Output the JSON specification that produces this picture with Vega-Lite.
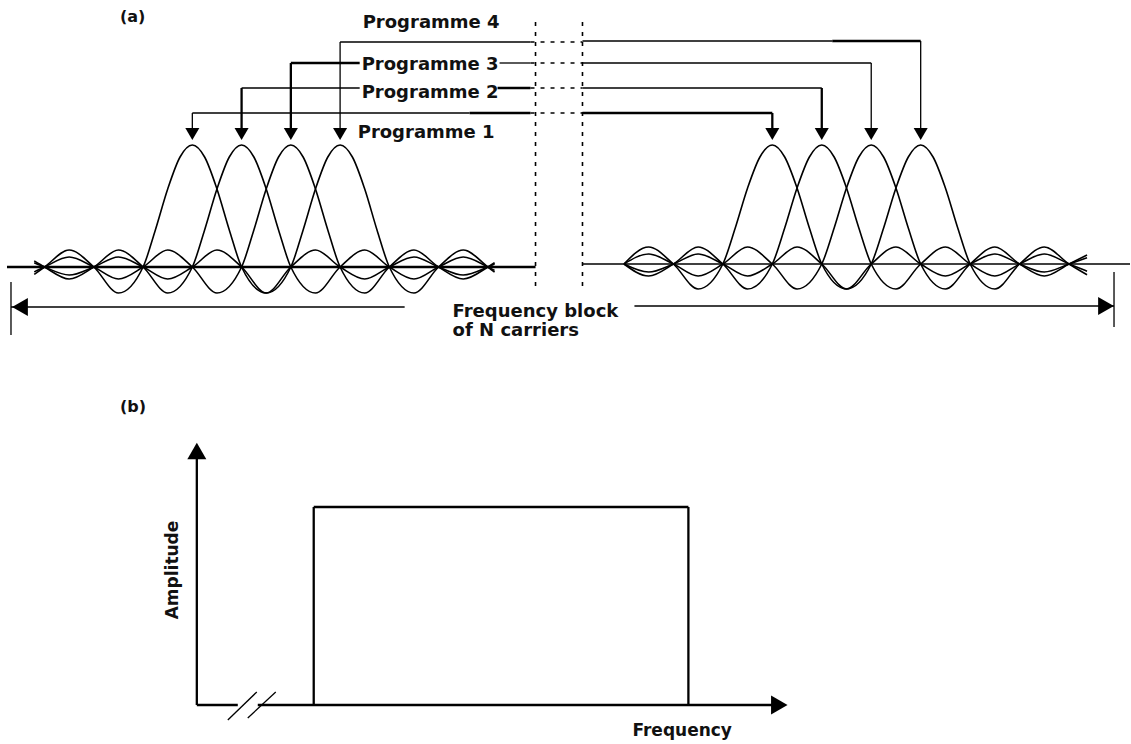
{
  "$schema": "https://vega.github.io/schema/vega-lite/v6.json",
  "width": 1131,
  "height": 744,
  "padding": 0,
  "autosize": {"type": "fit", "contains": "padding"},
  "background": "white",
  "config": {"view": {"stroke": null}},
  "datasets": {
    "curves": [
      {"g":"L0","x":34.3,"y":274.4},{"g":"L0","x":44.6,"y":267},{"g":"L0","x":69.25,"y":250},{"g":"L0","x":93.9,"y":267},{"g":"L0","x":118.55,"y":293},{"g":"L0","x":143.2,"y":267},{"g":"L0","x":155.5,"y":230},{"g":"L0","x":167.85,"y":189},{"g":"L0","x":180.2,"y":157},{"g":"L0","x":192.5,"y":145},{"g":"L0","x":204.8,"y":157},{"g":"L0","x":217.15,"y":189},{"g":"L0","x":229.5,"y":230},{"g":"L0","x":241.8,"y":267},{"g":"L0","x":266.45,"y":293},{"g":"L0","x":291.1,"y":267},{"g":"L0","x":315.75,"y":250},{"g":"L0","x":340.4,"y":267},{"g":"L0","x":365.05,"y":279},{"g":"L0","x":389.7,"y":267},{"g":"L0","x":414.35,"y":257},{"g":"L0","x":439,"y":267},{"g":"L0","x":463.65,"y":275},{"g":"L0","x":488.3,"y":267},{"g":"L0","x":495,"y":264},
      {"g":"L1","x":34.25,"y":260.9},{"g":"L1","x":44.6,"y":267},{"g":"L1","x":69.25,"y":279},{"g":"L1","x":93.9,"y":267},{"g":"L1","x":118.55,"y":250},{"g":"L1","x":143.2,"y":267},{"g":"L1","x":167.85,"y":293},{"g":"L1","x":192.5,"y":267},{"g":"L1","x":204.8,"y":230},{"g":"L1","x":217.15,"y":189},{"g":"L1","x":229.5,"y":157},{"g":"L1","x":241.8,"y":145},{"g":"L1","x":254.1,"y":157},{"g":"L1","x":266.45,"y":189},{"g":"L1","x":278.8,"y":230},{"g":"L1","x":291.1,"y":267},{"g":"L1","x":315.75,"y":293},{"g":"L1","x":340.4,"y":267},{"g":"L1","x":365.05,"y":250},{"g":"L1","x":389.7,"y":267},{"g":"L1","x":414.35,"y":279},{"g":"L1","x":439,"y":267},{"g":"L1","x":463.65,"y":257},{"g":"L1","x":488.3,"y":267},{"g":"L1","x":495,"y":270.4},
      {"g":"L2","x":34.25,"y":271.9},{"g":"L2","x":44.6,"y":267},{"g":"L2","x":69.25,"y":257},{"g":"L2","x":93.9,"y":267},{"g":"L2","x":118.55,"y":279},{"g":"L2","x":143.2,"y":267},{"g":"L2","x":167.85,"y":250},{"g":"L2","x":192.5,"y":267},{"g":"L2","x":217.15,"y":293},{"g":"L2","x":241.8,"y":267},{"g":"L2","x":254.1,"y":230},{"g":"L2","x":266.45,"y":189},{"g":"L2","x":278.8,"y":157},{"g":"L2","x":291.1,"y":145},{"g":"L2","x":303.4,"y":157},{"g":"L2","x":315.75,"y":189},{"g":"L2","x":328.1,"y":230},{"g":"L2","x":340.4,"y":267},{"g":"L2","x":365.05,"y":293},{"g":"L2","x":389.7,"y":267},{"g":"L2","x":414.35,"y":250},{"g":"L2","x":439,"y":267},{"g":"L2","x":463.65,"y":279},{"g":"L2","x":488.3,"y":267},{"g":"L2","x":495,"y":262.7},
      {"g":"L3","x":34.25,"y":262.7},{"g":"L3","x":44.6,"y":267},{"g":"L3","x":69.25,"y":275},{"g":"L3","x":93.9,"y":267},{"g":"L3","x":118.55,"y":257},{"g":"L3","x":143.2,"y":267},{"g":"L3","x":167.85,"y":279},{"g":"L3","x":192.5,"y":267},{"g":"L3","x":217.15,"y":250},{"g":"L3","x":241.8,"y":267},{"g":"L3","x":266.45,"y":293},{"g":"L3","x":291.1,"y":267},{"g":"L3","x":303.4,"y":230},{"g":"L3","x":315.75,"y":189},{"g":"L3","x":328.1,"y":157},{"g":"L3","x":340.4,"y":145},{"g":"L3","x":352.7,"y":157},{"g":"L3","x":365.05,"y":189},{"g":"L3","x":377.35,"y":230},{"g":"L3","x":389.7,"y":267},{"g":"L3","x":414.35,"y":293},{"g":"L3","x":439,"y":267},{"g":"L3","x":463.65,"y":250},{"g":"L3","x":488.3,"y":267},{"g":"L3","x":495,"y":272.2},
      {"g":"R0","x":624.5,"y":264},{"g":"R0","x":649.25,"y":247},{"g":"R0","x":674,"y":264},{"g":"R0","x":698.75,"y":289},{"g":"R0","x":723.5,"y":264},{"g":"R0","x":735.9,"y":228},{"g":"R0","x":748.25,"y":188},{"g":"R0","x":760.6,"y":157},{"g":"R0","x":773,"y":145},{"g":"R0","x":785.4,"y":157},{"g":"R0","x":797.75,"y":188},{"g":"R0","x":810.1,"y":228},{"g":"R0","x":822.5,"y":264},{"g":"R0","x":847.25,"y":289},{"g":"R0","x":872,"y":264},{"g":"R0","x":896.75,"y":247},{"g":"R0","x":921.5,"y":264},{"g":"R0","x":946.25,"y":276},{"g":"R0","x":971,"y":264},{"g":"R0","x":995.75,"y":254},{"g":"R0","x":1020.5,"y":264},{"g":"R0","x":1045.25,"y":272},{"g":"R0","x":1070,"y":264},{"g":"R0","x":1088,"y":257.7},
      {"g":"R1","x":624.5,"y":264},{"g":"R1","x":649.25,"y":276},{"g":"R1","x":674,"y":264},{"g":"R1","x":698.75,"y":247},{"g":"R1","x":723.5,"y":264},{"g":"R1","x":748.25,"y":289},{"g":"R1","x":773,"y":264},{"g":"R1","x":785.4,"y":228},{"g":"R1","x":797.75,"y":188},{"g":"R1","x":810.1,"y":157},{"g":"R1","x":822.5,"y":145},{"g":"R1","x":834.9,"y":157},{"g":"R1","x":847.25,"y":188},{"g":"R1","x":859.6,"y":228},{"g":"R1","x":872,"y":264},{"g":"R1","x":896.75,"y":289},{"g":"R1","x":921.5,"y":264},{"g":"R1","x":946.25,"y":247},{"g":"R1","x":971,"y":264},{"g":"R1","x":995.75,"y":276},{"g":"R1","x":1020.5,"y":264},{"g":"R1","x":1045.25,"y":254},{"g":"R1","x":1070,"y":264},{"g":"R1","x":1088,"y":271.2},
      {"g":"R2","x":624.5,"y":264},{"g":"R2","x":649.25,"y":254},{"g":"R2","x":674,"y":264},{"g":"R2","x":698.75,"y":276},{"g":"R2","x":723.5,"y":264},{"g":"R2","x":748.25,"y":247},{"g":"R2","x":773,"y":264},{"g":"R2","x":797.75,"y":289},{"g":"R2","x":822.5,"y":264},{"g":"R2","x":834.9,"y":228},{"g":"R2","x":847.25,"y":188},{"g":"R2","x":859.6,"y":157},{"g":"R2","x":872,"y":145},{"g":"R2","x":884.4,"y":157},{"g":"R2","x":896.75,"y":188},{"g":"R2","x":909.1,"y":228},{"g":"R2","x":921.5,"y":264},{"g":"R2","x":946.25,"y":289},{"g":"R2","x":971,"y":264},{"g":"R2","x":995.75,"y":247},{"g":"R2","x":1020.5,"y":264},{"g":"R2","x":1045.25,"y":276},{"g":"R2","x":1070,"y":264},{"g":"R2","x":1088,"y":255},
      {"g":"R3","x":624.5,"y":264},{"g":"R3","x":649.25,"y":272},{"g":"R3","x":674,"y":264},{"g":"R3","x":698.75,"y":254},{"g":"R3","x":723.5,"y":264},{"g":"R3","x":748.25,"y":276},{"g":"R3","x":773,"y":264},{"g":"R3","x":797.75,"y":247},{"g":"R3","x":822.5,"y":264},{"g":"R3","x":847.25,"y":289},{"g":"R3","x":872,"y":264},{"g":"R3","x":884.4,"y":228},{"g":"R3","x":896.75,"y":188},{"g":"R3","x":909.1,"y":157},{"g":"R3","x":921.5,"y":145},{"g":"R3","x":933.9,"y":157},{"g":"R3","x":946.25,"y":188},{"g":"R3","x":958.6,"y":228},{"g":"R3","x":971,"y":264},{"g":"R3","x":995.75,"y":289},{"g":"R3","x":1020.5,"y":264},{"g":"R3","x":1045.25,"y":247},{"g":"R3","x":1070,"y":264},{"g":"R3","x":1088,"y":274.8}
    ],
    "segs": [
      {"kind":"thin","x":192.5,"y":113,"x2":470,"y2":113},
      {"kind":"thick","x":470,"y":113,"x2":531,"y2":113},
      {"kind":"thin","x":192.5,"y":113,"x2":192.5,"y2":130},
      {"kind":"thin","x":241.8,"y":88,"x2":360,"y2":88},
      {"kind":"thick","x":498,"y":88,"x2":531,"y2":88},
      {"kind":"thick","x":241.8,"y":88,"x2":241.8,"y2":130},
      {"kind":"thick","x":291.1,"y":63,"x2":360,"y2":63},
      {"kind":"thin","x":500,"y":63,"x2":531,"y2":63},
      {"kind":"thick","x":291.1,"y":63,"x2":291.1,"y2":130},
      {"kind":"thin","x":340.4,"y":42,"x2":531,"y2":42},
      {"kind":"thin","x":340.4,"y":42,"x2":340.4,"y2":130},
      {"kind":"dash","x":536,"y":22,"x2":536,"y2":292},
      {"kind":"dash","x":583,"y":22,"x2":583,"y2":290},
      {"kind":"dash","x":531,"y":42,"x2":583,"y2":42},
      {"kind":"dash","x":531,"y":63,"x2":583,"y2":63},
      {"kind":"dash","x":531,"y":88,"x2":583,"y2":88},
      {"kind":"dash","x":531,"y":113,"x2":583,"y2":113},
      {"kind":"thin","x":583,"y":41,"x2":833,"y2":41},
      {"kind":"thick","x":833,"y":41,"x2":921.5,"y2":41},
      {"kind":"thin","x":921.5,"y":41,"x2":921.5,"y2":130},
      {"kind":"thin","x":583,"y":63,"x2":872,"y2":63},
      {"kind":"thin","x":872,"y":63,"x2":872,"y2":130},
      {"kind":"thin","x":583,"y":88,"x2":822.5,"y2":88},
      {"kind":"thick","x":822.5,"y":88,"x2":822.5,"y2":130},
      {"kind":"thick","x":583,"y":113,"x2":773,"y2":113},
      {"kind":"thick","x":773,"y":113,"x2":773,"y2":130},
      {"kind":"thick","x":7,"y":267,"x2":536,"y2":267},
      {"kind":"thin","x":583,"y":264,"x2":1131,"y2":264},
      {"kind":"thin","x":11,"y":282,"x2":11,"y2":335},
      {"kind":"thin","x":11,"y":307,"x2":405,"y2":307},
      {"kind":"thin","x":635,"y":306,"x2":1115,"y2":306},
      {"kind":"thin","x":1115,"y":272,"x2":1115,"y2":327},
      {"kind":"thick","x":197,"y":448,"x2":197,"y2":705},
      {"kind":"thick","x":197,"y":705,"x2":238,"y2":705},
      {"kind":"thick","x":258,"y":705,"x2":784,"y2":705},
      {"kind":"thin","x":228,"y":720,"x2":257,"y2":692},
      {"kind":"thin","x":248,"y":718,"x2":276,"y2":692},
      {"kind":"thick","x":314,"y":507,"x2":314,"y2":705},
      {"kind":"thick","x":314,"y":507,"x2":689,"y2":507},
      {"kind":"thick","x":689,"y":507,"x2":689,"y2":705}
    ],
    "heads": [
      {"dir":"down","x":192.5,"y":134,"s":65},
      {"dir":"down","x":241.8,"y":134,"s":65},
      {"dir":"down","x":291.1,"y":134,"s":65},
      {"dir":"down","x":340.4,"y":134,"s":65},
      {"dir":"down","x":773,"y":134,"s":65},
      {"dir":"down","x":822.5,"y":134,"s":65},
      {"dir":"down","x":872,"y":134,"s":65},
      {"dir":"down","x":921.5,"y":134,"s":65},
      {"dir":"left","x":20,"y":307,"s":110},
      {"dir":"right","x":1107,"y":306,"s":110},
      {"dir":"right","x":780,"y":705,"s":120},
      {"dir":"up","x":197,"y":451,"s":120}
    ],
    "progs": [
      {"t":"Programme 4","x":363,"y":28},
      {"t":"Programme 3","x":362,"y":70},
      {"t":"Programme 2","x":362,"y":98},
      {"t":"Programme 1","x":358,"y":138},
      {"t":"Frequency block","x":453,"y":317},
      {"t":"of N carriers","x":453,"y":336}
    ],
    "labels": [
      {"t":"Frequency","x":633,"y":736}
    ],
    "tags": [
      {"t":"(a)","x":120,"y":22},
      {"t":"(b)","x":120,"y":412}
    ]
  },
  "layer": [
    {
      "data": {"name": "curves"},
      "mark": {"type": "line", "interpolate": "monotone", "color": "black", "strokeWidth": 1.6},
      "encoding": {
        "x": {"field": "x", "type": "quantitative", "scale": {"domain": [0, 1131], "nice": false, "zero": false}, "axis": null},
        "y": {"field": "y", "type": "quantitative", "scale": {"domain": [0, 744], "nice": false, "zero": false, "reverse": true}, "axis": null},
        "detail": {"field": "g"}
      }
    },
    {
      "data": {"name": "segs"},
      "transform": [{"filter": "datum.kind == 'thin'"}],
      "mark": {"type": "rule", "color": "black", "strokeWidth": 1.3},
      "encoding": {
        "x": {"field": "x", "type": "quantitative"},
        "y": {"field": "y", "type": "quantitative"},
        "x2": {"field": "x2"},
        "y2": {"field": "y2"}
      }
    },
    {
      "data": {"name": "segs"},
      "transform": [{"filter": "datum.kind == 'thick'"}],
      "mark": {"type": "rule", "color": "black", "strokeWidth": 2.3},
      "encoding": {
        "x": {"field": "x", "type": "quantitative"},
        "y": {"field": "y", "type": "quantitative"},
        "x2": {"field": "x2"},
        "y2": {"field": "y2"}
      }
    },
    {
      "data": {"name": "segs"},
      "transform": [{"filter": "datum.kind == 'dash'"}],
      "mark": {"type": "rule", "color": "black", "strokeWidth": 1.6, "strokeDash": [4, 6]},
      "encoding": {
        "x": {"field": "x", "type": "quantitative"},
        "y": {"field": "y", "type": "quantitative"},
        "x2": {"field": "x2"},
        "y2": {"field": "y2"}
      }
    },
    {
      "data": {"name": "heads"},
      "mark": {"type": "point", "filled": true, "color": "black", "opacity": 1, "strokeWidth": 0},
      "encoding": {
        "x": {"field": "x", "type": "quantitative"},
        "y": {"field": "y", "type": "quantitative"},
        "shape": {"field": "dir", "type": "nominal", "scale": {"domain": ["down", "left", "right", "up"], "range": ["triangle-down", "triangle-left", "triangle-right", "triangle-up"]}, "legend": null},
        "size": {"field": "s", "type": "quantitative", "scale": {"type": "identity"}, "legend": null}
      }
    },
    {
      "data": {"name": "progs"},
      "mark": {"type": "text", "align": "left", "baseline": "alphabetic", "font": "DejaVu Sans", "fontWeight": "bold", "fontSize": 18, "color": "#111"},
      "encoding": {
        "x": {"field": "x", "type": "quantitative"},
        "y": {"field": "y", "type": "quantitative"},
        "text": {"field": "t"}
      }
    },
    {
      "data": {"name": "labels"},
      "mark": {"type": "text", "align": "left", "baseline": "alphabetic", "font": "DejaVu Sans", "fontWeight": "bold", "fontSize": 17, "color": "#111"},
      "encoding": {
        "x": {"field": "x", "type": "quantitative"},
        "y": {"field": "y", "type": "quantitative"},
        "text": {"field": "t"}
      }
    },
    {
      "data": {"name": "tags"},
      "mark": {"type": "text", "align": "left", "baseline": "alphabetic", "font": "DejaVu Sans", "fontWeight": "bold", "fontSize": 16, "color": "#111"},
      "encoding": {
        "x": {"field": "x", "type": "quantitative"},
        "y": {"field": "y", "type": "quantitative"},
        "text": {"field": "t"}
      }
    },
    {
      "data": {"values": [{"t": "Amplitude", "x": 178, "y": 570}]},
      "mark": {"type": "text", "align": "center", "baseline": "alphabetic", "angle": 270, "font": "DejaVu Sans", "fontWeight": "bold", "fontSize": 17, "color": "#111"},
      "encoding": {
        "x": {"field": "x", "type": "quantitative"},
        "y": {"field": "y", "type": "quantitative"},
        "text": {"field": "t"}
      }
    }
  ]
}
